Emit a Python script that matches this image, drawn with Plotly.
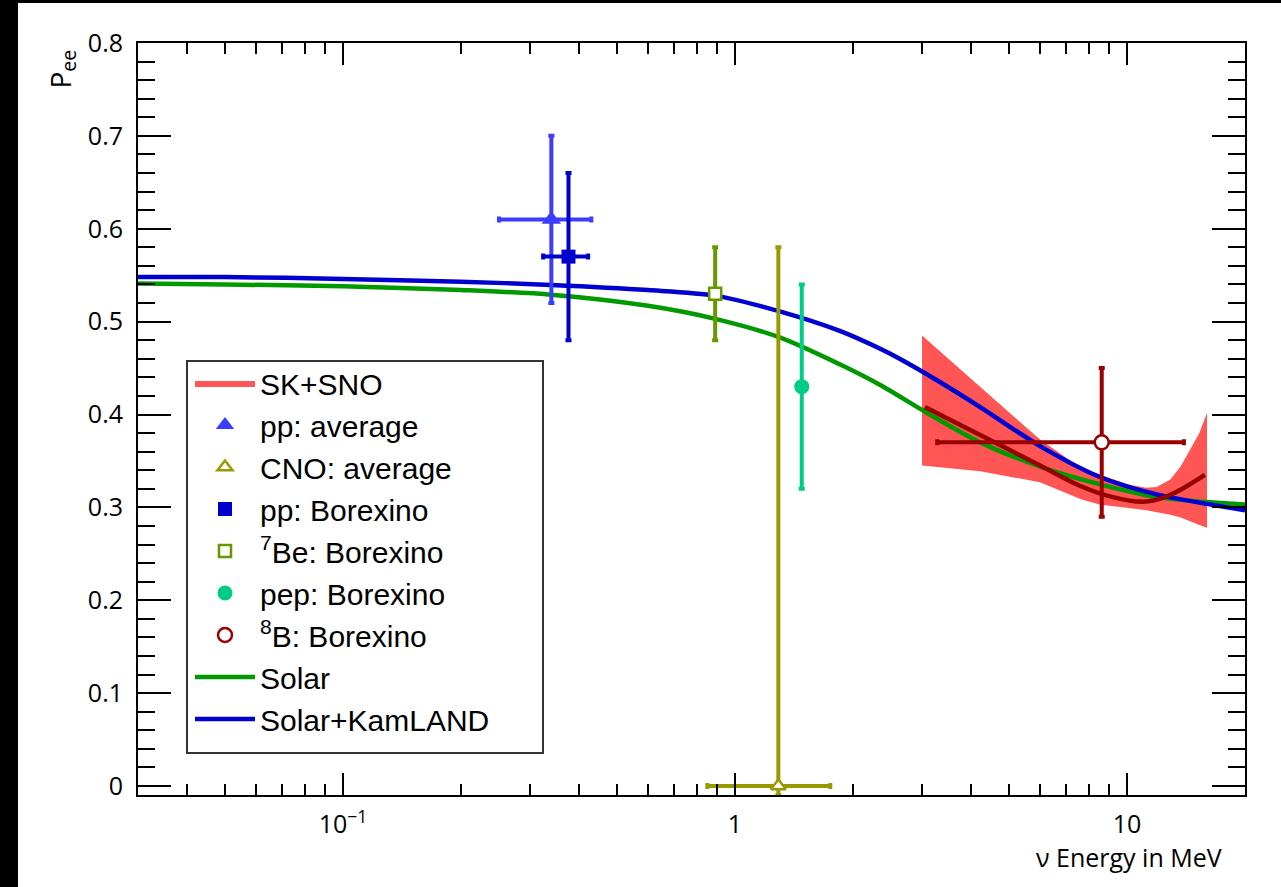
import plotly.graph_objects as go

# ---------------- data ----------------
# oscillation curves (energy in MeV, survival probability)
E_curve = [0.03, 0.05, 0.1, 0.2, 0.34, 0.6, 0.89, 1.3, 1.85, 2.34, 2.63, 3.33, 4.22, 6.0, 8.5, 11.9, 20.0]
P_solar_kamland = [0.548, 0.548, 0.546, 0.543, 0.5395, 0.534, 0.528, 0.511, 0.490, 0.471, 0.460, 0.435, 0.408, 0.366, 0.333, 0.314, 0.297]
E_curve_solar = [0.03, 0.05, 0.1, 0.2, 0.34, 0.6, 0.89, 1.3, 1.85, 2.34, 3.14, 4.22, 6.0, 8.5, 11.9, 20.0]
P_solar = [0.541, 0.540, 0.538, 0.534, 0.529, 0.517, 0.503, 0.483, 0.454, 0.432, 0.400, 0.370, 0.344, 0.325, 0.311, 0.303]

# SK+SNO band
E_band = [3.0, 4.22, 6.0, 7.6, 8.5, 10.2, 11.2, 11.9, 12.9, 13.7, 14.5, 15.3, 16.0]
P_band_upper = [0.485, 0.430, 0.373, 0.343, 0.335, 0.324, 0.321, 0.322, 0.330, 0.344, 0.362, 0.380, 0.402]
P_band_lower = [0.345, 0.339, 0.327, 0.309, 0.303, 0.299, 0.297, 0.295, 0.292, 0.289, 0.285, 0.281, 0.278]
E_band_center = [3.05, 4.22, 6.0, 7.6, 9.2, 11.0, 12.5, 13.7, 15.8]
P_band_center = [0.408, 0.378, 0.345, 0.323, 0.311, 0.306, 0.311, 0.319, 0.335]

# measurements
pp_avg = dict(E=[0.34], Em=[0.09], Ep=[0.09], P=[0.61], Pm=[0.09], Pp=[0.09])
cno_avg = dict(E=[1.29], Em=[0.44], Ep=[0.46], P=[0.0], Pm=[0.01], Pp=[0.58])
pp_bx = dict(E=[0.376], Em=[0.052], Ep=[0.046], P=[0.57], Pm=[0.09], Pp=[0.09])
be7_bx = dict(E=[0.89], Em=[0.0], Ep=[0.0], P=[0.53], Pm=[0.05], Pp=[0.05])
pep_bx = dict(E=[1.48], Em=[0.0], Ep=[0.0], P=[0.43], Pm=[0.11], Pp=[0.11])
b8_bx = dict(E=[8.62], Em=[5.34], Ep=[5.35], P=[0.37], Pm=[0.08], Pp=[0.08])

y_ticks = [0, 0.1, 0.2, 0.3, 0.4, 0.5, 0.6, 0.7, 0.8]
x_tickvals = [0.1, 1, 10]
x_ticktext = ["10<sup>−1</sup>", "1", "10"]

# ---------------- figure ----------------
fig = go.Figure()

fig.add_trace(go.Scatter(
    x=E_band + E_band[::-1], y=P_band_upper + P_band_lower[::-1],
    fill="toself", fillcolor="#ff5555", line=dict(width=0, color="#ff5555"),
    mode="lines", name="SK+SNO", legendrank=1, hoverinfo="skip"))

fig.add_trace(go.Scatter(x=E_curve_solar, y=P_solar, mode="lines",
                         line=dict(color="#009a00", width=4.5, shape="spline", smoothing=0.8),
                         name="Solar", legendrank=8))
fig.add_trace(go.Scatter(x=E_curve, y=P_solar_kamland, mode="lines",
                         line=dict(color="#0000d0", width=4.5, shape="spline", smoothing=0.8),
                         name="Solar+KamLAND", legendrank=9))
fig.add_trace(go.Scatter(x=E_band_center, y=P_band_center, mode="lines",
                         line=dict(color="#990000", width=4.5, shape="spline"), showlegend=False))


def point(d, name, color, symbol, size, rank, open_marker=False):
    marker = dict(symbol=symbol, size=size, color="white" if open_marker else color,
                  line=dict(color=color, width=2.5 if open_marker else 0))
    return go.Scatter(
        x=d["E"], y=d["P"], mode="markers", name=name, legendrank=rank, marker=marker,
        error_x=dict(type="data", symmetric=False, array=d["Ep"], arrayminus=d["Em"],
                     color=color, thickness=4, width=3, visible=any(v > 0 for v in d["Ep"])),
        error_y=dict(type="data", symmetric=False, array=d["Pp"], arrayminus=d["Pm"],
                     color=color, thickness=4, width=3))


fig.add_trace(point(cno_avg, "CNO: average", "#999900", "triangle-up", 13, 3, open_marker=True))
fig.add_trace(point(pp_avg, "pp: average", "#3c3cff", "triangle-up", 17, 2))
fig.add_trace(point(pp_bx, "pp: Borexino", "#0000cc", "square", 14, 4))
fig.add_trace(point(be7_bx, "<sup>7</sup>Be: Borexino", "#669900", "square", 12, 5, open_marker=True))
fig.add_trace(point(pep_bx, "pep: Borexino", "#00cc88", "circle", 15, 6))
fig.add_trace(point(b8_bx, "<sup>8</sup>B: Borexino", "#990000", "circle", 14, 7, open_marker=True))

# pixel -> paper helpers for layout decorations
L, R, T, B = 138, 1245, 43, 795
def px(x):
    return (x - L) / (R - L)
def py(y):
    return (B - y) / (B - T)

axis_common = dict(showline=True, linecolor="black", linewidth=2, mirror="allticks",
                   ticks="inside", tickcolor="black", tickwidth=2, showgrid=False, zeroline=False,
                   tickfont=dict(family="Open Sans", size=25, color="black"))

fig.update_layout(
    width=1281, height=887,
    margin=dict(l=L, r=1281 - R, t=T, b=887 - B),
    paper_bgcolor="white", plot_bgcolor="white",
    xaxis=dict(type="log", range=[-1.523, 1.301], tickmode="array", tickvals=x_tickvals, ticktext=x_ticktext,
               ticklen=22, ticklabelstandoff=6,
               minor=dict(tickmode="array",
                          tickvals=[k * 10 ** e for e in (-2, -1, 0, 1) for k in range(2, 10)],
                          ticks="inside", ticklen=11, tickwidth=2, tickcolor="black", showgrid=False),
               **axis_common),
    yaxis=dict(range=[-0.0097, 0.8], tickmode="array", tickvals=y_ticks, ticklen=33, ticklabelstandoff=8,
               minor=dict(dtick=0.02, ticks="inside", ticklen=17, tickwidth=2, tickcolor="black", showgrid=False),
               **axis_common),
    showlegend=True,
    legend=dict(x=px(190), y=py(357), xanchor="left", yanchor="top", bgcolor="rgba(0,0,0,0)",
                borderwidth=0, itemwidth=60, traceorder="normal",
                font=dict(family="Liberation Sans", size=30, color="black"), tracegroupgap=0),
    shapes=[
        dict(type="rect", xref="paper", yref="paper", x0=px(187), x1=px(543), y0=py(753), y1=py(361),
             line=dict(color="#333333", width=2), fillcolor="white", layer="above"),
        dict(type="rect", xref="paper", yref="paper", x0=px(0), x1=px(18), y0=py(887), y1=py(0),
             line=dict(width=0), fillcolor="black", layer="above"),
        dict(type="rect", xref="paper", yref="paper", x0=px(0), x1=px(1281), y0=py(3), y1=py(0),
             line=dict(width=0), fillcolor="black", layer="above"),
    ],
    annotations=[
        dict(text="ν Energy in MeV", xref="paper", yref="paper", x=px(1224), y=py(857),
             xanchor="right", yanchor="middle", showarrow=False,
             font=dict(family="Open Sans", size=25, color="black")),
        dict(text="P<sub>ee</sub>", xref="paper", yref="paper", x=px(61), y=py(48), textangle=-90,
             xanchor="center", yanchor="top", showarrow=False,
             font=dict(family="Open Sans", size=28, color="black")),
    ],
)

fig.write_html("out.html", config={"displayModeBar": False},
               post_script="document.body.style.margin='0px';document.body.style.overflow='hidden';")
